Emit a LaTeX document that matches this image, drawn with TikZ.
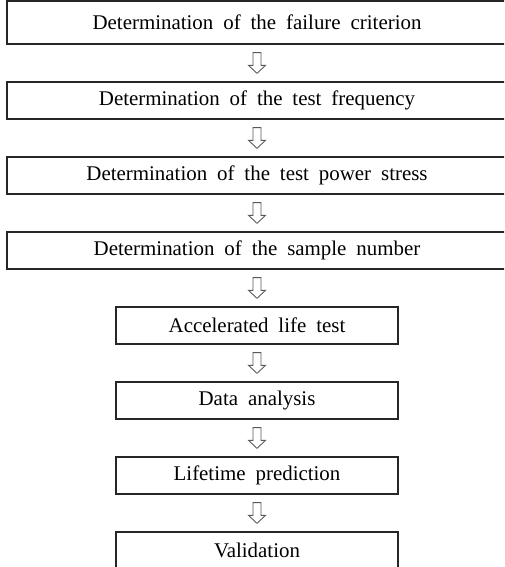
\documentclass[tikz,border=0pt]{standalone}
\usepackage{fontspec}
\setmainfont{Liberation Serif}[WordSpace=1.9]
\usetikzlibrary{calc}
\tikzset{
  widebox/.style={draw=black!85, line width=0.75pt, minimum width=10cm, minimum height=0.74cm, inner sep=0pt},
  stepbox/.style={draw=black!85, line width=0.75pt, minimum width=5.64cm, minimum height=0.74cm, inner sep=0pt},
  flow/.style={draw=black!65, line width=0.5pt, fill=white,
    to path={($(\tikztostart)+(-4,8)$) -- ($(\tikztotarget)+(-4,-16)$) -- ($(\tikztotarget)+(-8.5,-16)$)
      -- ($(\tikztotarget)+(0,-8)$) -- ($(\tikztotarget)+(8.5,-16)$) -- ($(\tikztotarget)+(4,-16)$)
      -- ($(\tikztostart)+(4,8)$) -- cycle}},
}
\begin{document}
\begin{tikzpicture}[x=0.02cm, y=-0.02cm, font=\fontsize{11.9}{14}\selectfont]
\useasboundingbox (0,0) rectangle (504,567);
\clip (0,0) rectangle (504,567);
% determination steps
\node[widebox, minimum height=0.86cm] (crit) at (257,22.5) {Determination of the failure criterion};
\node[widebox] (freq) at (257,100.5) {Determination of the test frequency};
\node[widebox] (stress) at (257,175.5) {Determination of the test power stress};
\node[widebox] (num) at (257,250.5) {Determination of the sample number};
% test and evaluation
\node[stepbox] (alt) at (257,325.5) {Accelerated life test};
\node[stepbox] (data) at (257,400.5) {Data analysis};
\node[stepbox] (life) at (257,475.5) {Lifetime prediction};
\node[stepbox] (valid) at (257,550.5) {Validation};
\foreach \a/\b in {crit/freq, freq/stress, stress/num, num/alt, alt/data, data/life, life/valid}
  \draw[flow] (\a.south) to (\b.north);
\end{tikzpicture}
\end{document}
